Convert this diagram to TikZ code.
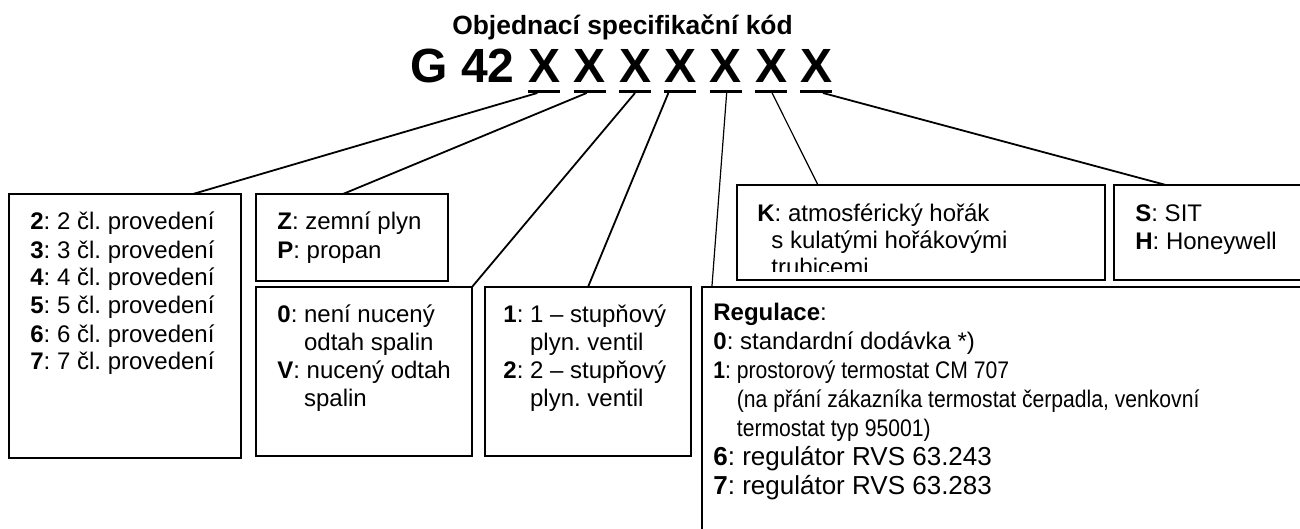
\documentclass[tikz,border=0pt]{standalone}
\usepackage{fontspec}
\setmainfont{Liberation Sans}
\newfontfamily\narrowsans[FakeStretch=0.88]{Liberation Sans}
\usetikzlibrary{calc}
\newcommand{\tlines}[1]{\begin{tabular}[t]{@{}l@{}}#1\end{tabular}}
\frenchspacing
\begin{document}
\begin{tikzpicture}[x=0.5pt,y=-0.5pt,
  box/.style={draw, line width=1pt, inner sep=0pt, outer sep=0pt, anchor=north west},
  txt/.style={anchor=base west, inner sep=0pt, font=\fontsize{12pt}{14pt}\selectfont},
  conn/.style={line width=0.9pt},
  thinconn/.style={line width=0.6pt},
  ul/.style={line width=1.75pt},
  bigx/.style={font=\fontsize{24pt}{28pt}\selectfont\bfseries, anchor=base, inner sep=0pt}]
\useasboundingbox (0,0) rectangle (1300,529);
\clip (0,0) rectangle (1300,529);
% title and code
\node[font=\fontsize{13.2pt}{16pt}\selectfont\bfseries, anchor=base, inner sep=0pt] (title) at (622.5,35) {Objednací specifikační kód};
\node[bigx, anchor=base east] (g) at (515,83) {G 42};
\foreach \i in {1,...,7} {
  \node[bigx] (x\i) at ({544.3+45.36*(\i-1)},83) {X};
  \draw[ul] ($(x\i.base)+(-16,8.5)$) -- ($(x\i.base)+(16,8.5)$);
}
% boxes
\node[box, minimum width=116pt, minimum height=132pt] (b1) at (9,194) {};
\node[box, minimum width=96pt, minimum height=43.5pt] (b2) at (256,194) {};
\node[box, minimum width=108pt, minimum height=84.5pt] (b3) at (256,287) {};
\node[box, minimum width=103pt, minimum height=84.5pt] (b4) at (485,287) {};
\node[box, minimum width=184pt, minimum height=47.5pt] (bK) at (737,185) {};
\node[box, minimum width=103pt, minimum height=47.5pt] (bS) at (1114,185) {};
\node[box, minimum width=309pt, minimum height=129pt] (bR) at (702,287) {};
% texts
\node[txt] (t1) at (30,230) {\tlines{\textbf{2}: 2 čl. provedení\\\textbf{3}: 3 čl. provedení\\\textbf{4}: 4 čl. provedení\\\textbf{5}: 5 čl. provedení\\\textbf{6}: 6 čl. provedení\\\textbf{7}: 7 čl. provedení}};
\node[txt] (t2) at (277,230) {\tlines{\textbf{Z}: zemní plyn\\\textbf{P}: propan}};
\node[txt] (t3) at (277,322) {\tlines{\textbf{0}: není nucený\\\phantom{\textbf{0}: }odtah spalin\\\textbf{V}: nucený odtah\\\phantom{\textbf{0}: }spalin}};
\node[txt] (t4) at (503,322) {\tlines{\textbf{1}: 1 – stupňový\\\phantom{\textbf{1}: }plyn. ventil\\\textbf{2}: 2 – stupňový\\\phantom{\textbf{2}: }plyn. ventil}};
\begin{scope}
\clip (737,185) rectangle (1105,271);
\node[txt, font=\fontsize{12pt}{13.5pt}\selectfont] (tK) at (757,221) {\tlines{\textbf{K}: atmosférický hořák\\\hspace*{7pt}s kulatými hořákovými\\\hspace*{7pt}trubicemi}};
\end{scope}
\node[txt] (tS) at (1135,221) {\tlines{\textbf{S}: SIT\\\textbf{H}: Honeywell}};
\node[txt, font=\fontsize{12pt}{14.5pt}\selectfont] (tR) at (713,320.5) {\tlines{\textbf{Regulace}:\\\textbf{0}: standardní dodávka *)\\{\narrowsans\textbf{1}: prostorový termostat CM 707}\\{\narrowsans\phantom{\textbf{1}: }(na přání zákazníka termostat čerpadla, venkovní}\\{\narrowsans\phantom{\textbf{1}: }termostat typ 95001)}\\{\fontsize{13pt}{14.5pt}\selectfont\textbf{6}: regulátor RVS 63.243}\\{\fontsize{13pt}{14.5pt}\selectfont\textbf{7}: regulátor RVS 63.283}}};
% connector ends
\coordinate (u1) at ($(x1.base)+(-7,10)$);
\coordinate (u2) at ($(x2.base)+(-3,10)$);
\coordinate (u3) at ($(x3.base)+(0,10)$);
\coordinate (u4) at ($(x4.base)+(-12,10)$);
\coordinate (u5) at ($(x5.base)+(1,9)$);
\coordinate (u6) at ($(x6.base)+(1,10)$);
\coordinate (u7) at ($(x7.base)+(6.5,10)$);
\coordinate (e1) at ($(b1.north west)!0.793!(b1.north east)$);
\coordinate (e2) at ($(b2.north west)!0.453!(b2.north east)$);
\coordinate (e5) at ($(bR.north west)!0.016!(bR.north east)$);
\coordinate (e6) at ($(bK.north west)!0.22!(bK.north east)$);
\coordinate (e7) at ($(bS.north west)!0.252!(bS.north east)$);
\draw[conn] (u1) -- (e1);
\draw[conn] (u2) -- (e2);
\draw[conn] (u3) -- (b3.north east);
\draw[conn] (u4) -- (b4.north);
\draw[thinconn] (u5) -- (e5);
\draw[thinconn] (u6) -- (e6);
\draw[conn] (u7) -- (e7);
\end{tikzpicture}
\end{document}
